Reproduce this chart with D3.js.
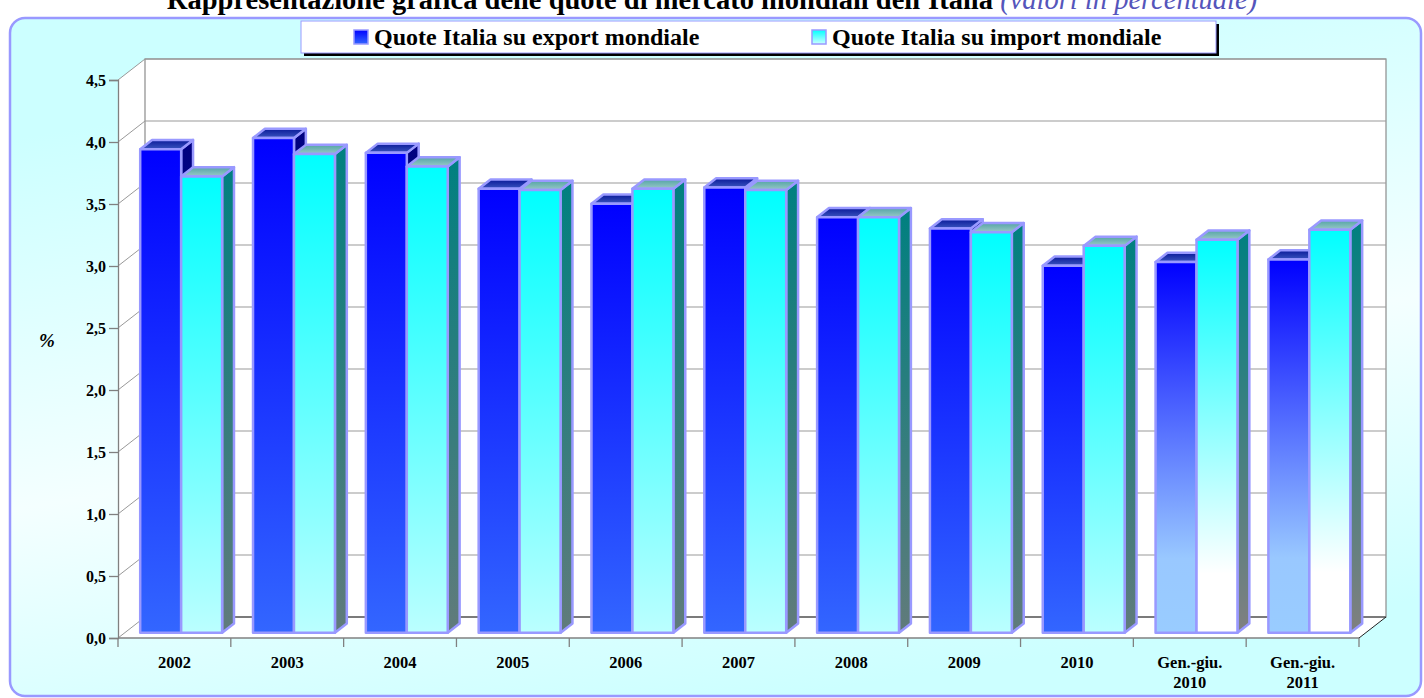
<!DOCTYPE html>
<html>
<head>
<meta charset="utf-8">
<script src="https://cdn.jsdelivr.net/npm/d3@7"></script>
<style>
  body { margin: 0; background: #ffffff; }
  svg { display: block; }
  text { font-family: "Liberation Serif", "DejaVu Serif", serif; }
</style>
</head>
<body>
<div class="chart"></div>
<script>
// data
const categories = ["2002", "2003", "2004", "2005", "2006", "2007", "2008", "2009", "2010", "Gen.-giu.\n2010", "Gen.-giu.\n2011"];
const exportShare = [3.90, 3.99, 3.87, 3.58, 3.46, 3.59, 3.35, 3.26, 2.96, 2.99, 3.01];
const importShare = [3.68, 3.86, 3.76, 3.57, 3.58, 3.57, 3.35, 3.23, 3.12, 3.17, 3.25];
const seriesNames = ["Quote Italia su export mondiale", "Quote Italia su import mondiale"];
const yTicks = [0, 0.5, 1, 1.5, 2, 2.5, 3, 3.5, 4, 4.5];
const lightCategories = ["Gen.-giu.\n2010", "Gen.-giu.\n2011"];

init();

function init() {
    const width = 1424, height = 698;
    const svg = d3.select(".chart").append("svg")
        .attr("width", width)
        .attr("height", height);

    const defs = svg.append("defs");
    addGradients(defs);

    // background panel
    svg.append("rect")
        .attr("x", 10).attr("y", 18)
        .attr("width", 1411).attr("height", 678)
        .attr("rx", 15)
        .attr("fill", "url(#bgGrad)")
        .attr("stroke", "#9999ff")
        .attr("stroke-width", 2.5);

    drawTitle(svg);
    drawLegend(svg);
    drawChart(svg);
}

function addGradients(defs) {
    const bg = defs.append("linearGradient").attr("id", "bgGrad")
        .attr("gradientUnits", "userSpaceOnUse")
        .attr("x1", 660).attr("y1", 40).attr("x2", 760).attr("y2", 700);
    bg.append("stop").attr("offset", 0).attr("stop-color", "#ccffff");
    bg.append("stop").attr("offset", 0.55).attr("stop-color", "#f4ffff");
    bg.append("stop").attr("offset", 1).attr("stop-color", "#ccffff");

    const vgrad = (id, stops) => {
        const g = defs.append("linearGradient").attr("id", id)
            .attr("x1", 0).attr("y1", 0).attr("x2", 0).attr("y2", 1);
        stops.forEach(s => g.append("stop").attr("offset", s[0]).attr("stop-color", s[1]));
    };
    vgrad("expFront", [[0, "#0000ff"], [1, "#3366ff"]]);
    vgrad("expFrontLight", [[0, "#0000ff"], [0.8, "#99c8ff"], [1, "#99ccff"]]);
    vgrad("impFront", [[0, "#00ffff"], [1, "#bbffff"]]);
    vgrad("impFrontLight", [[0, "#00ffff"], [0.85, "#ffffff"], [1, "#ffffff"]]);
    vgrad("expSide", [[0, "#000080"], [1, "#203399"]]);
    vgrad("expSideLight", [[0, "#000080"], [1, "#6680bb"]]);
    vgrad("impSide", [[0, "#008080"], [1, "#617b7b"]]);
    vgrad("impSideLight", [[0, "#008080"], [1, "#808080"]]);
    vgrad("expTop", [[0, "#0a1a99"], [1, "#3a55c0"]]);
    vgrad("impTop", [[0, "#55a5a5"], [1, "#99c8c8"]]);
    vgrad("expSwatch", [[0, "#0000ff"], [1, "#3366ff"]]);
    vgrad("impSwatch", [[0, "#00ffff"], [1, "#ccffff"]]);
}

function drawTitle(svg) {
    const t = svg.append("text")
        .attr("x", 712).attr("y", 9)
        .attr("text-anchor", "middle")
        .attr("font-size", "28.5px");
    t.append("tspan")
        .attr("font-weight", "bold")
        .attr("fill", "#000000")
        .text("Rappresentazione grafica delle quote di mercato mondiali dell'Italia ");
    t.append("tspan")
        .attr("font-style", "italic")
        .attr("fill", "#5555bb")
        .text("(valori in percentuale)");
}

function drawLegend(svg) {
    const lx = 301, ly = 21, lw = 915, lh = 32;
    svg.append("rect")
        .attr("x", lx + 3).attr("y", ly + 3)
        .attr("width", lw).attr("height", lh)
        .attr("fill", "#000000");
    svg.append("rect")
        .attr("x", lx).attr("y", ly)
        .attr("width", lw).attr("height", lh)
        .attr("fill", "#ffffff")
        .attr("stroke", "#9999ff")
        .attr("stroke-width", 1);

    const items = [
        {name: seriesNames[0], fill: "url(#expSwatch)", x: 354},
        {name: seriesNames[1], fill: "url(#impSwatch)", x: 812}
    ];
    const g = svg.selectAll(".legend-item")
        .data(items)
        .enter().append("g")
        .attr("class", "legend-item")
        .attr("transform", d => "translate(" + d.x + "," + (ly + 9) + ")");
    g.append("rect")
        .attr("width", 14).attr("height", 14)
        .attr("fill", d => d.fill)
        .attr("stroke", "#9999ff")
        .attr("stroke-width", 1.5);
    g.append("text")
        .attr("x", 20).attr("y", 15)
        .attr("font-size", "24px")
        .attr("font-weight", "bold")
        .text(d => d.name);
}

function drawChart(svg) {
    const x0 = 118, x1 = 1359,
        yBottom = 638, yTop = 80,
        depthX = 27, depthY = -21;

    const x = d3.scaleBand()
        .domain(categories)
        .range([x0, x1])
        .paddingInner(0).paddingOuter(0);

    const y = d3.scaleLinear()
        .domain([0, 4.5])
        .range([yBottom, yTop]);

    const bw = x.bandwidth();
    const sub = d3.scaleBand()
        .domain(seriesNames)
        .range([bw * 0.137, bw * 0.863]);

    // walls and floor
    svg.append("polygon")
        .attr("points", [[x0, yTop], [x0 + depthX, yTop + depthY], [x0 + depthX, yBottom + depthY], [x0, yBottom]].join(" "))
        .attr("fill", "#ffffff");
    svg.append("polygon")
        .attr("points", [[x0, yBottom], [x0 + depthX, yBottom + depthY], [x1 + depthX, yBottom + depthY], [x1, yBottom]].join(" "))
        .attr("fill", "#ffffff");
    svg.append("rect")
        .attr("x", x0 + depthX).attr("y", yTop + depthY)
        .attr("width", x1 - x0).attr("height", yBottom - yTop)
        .attr("fill", "#ffffff")
        .attr("stroke", "#8c8c8c")
        .attr("stroke-width", 1.2);

    // grid on back wall and side wall
    const grid = svg.append("g").attr("class", "grid");
    grid.selectAll(".gback")
        .data(yTicks)
        .enter().append("line")
        .attr("x1", x0 + depthX).attr("x2", x1 + depthX)
        .attr("y1", d => y(d) + depthY).attr("y2", d => y(d) + depthY)
        .attr("stroke", d => d === 0 ? "#666666" : "#999999")
        .attr("stroke-width", d => d === 0 ? 1.6 : 1.2);
    grid.selectAll(".gside")
        .data(yTicks)
        .enter().append("line")
        .attr("x1", x0).attr("x2", x0 + depthX)
        .attr("y1", d => y(d)).attr("y2", d => y(d) + depthY)
        .attr("stroke", "#999999")
        .attr("stroke-width", 1);
    svg.append("line")
        .attr("x1", x1).attr("y1", yBottom)
        .attr("x2", x1 + depthX).attr("y2", yBottom + depthY)
        .attr("stroke", "#222222").attr("stroke-width", 1);

    // bars
    const f0 = 0.25, f1 = 0.69;
    const rows = categories.map((c, i) => ({
        cat: c,
        light: lightCategories.includes(c),
        values: [exportShare[i], importShare[i]]
    }));

    const groups = svg.selectAll(".cat")
        .data(rows)
        .enter().append("g")
        .attr("class", "cat");

    groups.each(function(row) {
        const g = d3.select(this);
        row.values.forEach((v, j) => {
            const name = seriesNames[j];
            const isExp = j === 0;
            const bx = x(row.cat) + sub(name) + depthX * f0;
            const w = sub.bandwidth();
            const yt = y(v) + depthY * f0;
            const yb = y(0) + depthY * f0;
            const ddx = depthX * (f1 - f0), ddy = depthY * (f1 - f0);
            const front = isExp ? (row.light ? "expFrontLight" : "expFront") : (row.light ? "impFrontLight" : "impFront");
            const side = isExp ? (row.light ? "expSideLight" : "expSide") : (row.light ? "impSideLight" : "impSide");
            const top = isExp ? "expTop" : "impTop";

            const bar = g.append("g").attr("class", "bar")
                .attr("stroke", "#9999ff")
                .attr("stroke-width", 2.5)
                .attr("stroke-linejoin", "round");
            bar.append("polygon")
                .attr("points", [[bx + w, yt], [bx + w + ddx, yt + ddy], [bx + w + ddx, yb + ddy], [bx + w, yb]].join(" "))
                .attr("fill", "url(#" + side + ")");
            bar.append("polygon")
                .attr("points", [[bx, yt], [bx + ddx, yt + ddy], [bx + w + ddx, yt + ddy], [bx + w, yt]].join(" "))
                .attr("fill", "url(#" + top + ")");
            bar.append("rect")
                .attr("x", bx).attr("y", yt)
                .attr("width", w).attr("height", yb - yt)
                .attr("fill", "url(#" + front + ")");
        });
    });

    // y axis
    const yAxis = svg.append("g")
        .attr("class", "y-axis")
        .attr("transform", "translate(" + x0 + ",0)")
        .call(d3.axisLeft(y)
            .tickValues(yTicks)
            .tickSize(9)
            .tickPadding(3)
            .tickFormat(d => d3.format(".1f")(d).replace(".", ",")));
    yAxis.select(".domain").attr("stroke", "#808080").attr("stroke-width", 1.3);
    yAxis.selectAll(".tick line").attr("stroke", "#808080").attr("stroke-width", 1.3);
    yAxis.selectAll(".tick text")
        .attr("font-family", "Liberation Serif, serif")
        .attr("font-size", "16px")
        .attr("font-weight", "bold")
        .attr("fill", "#000000");

    // x axis
    svg.append("line")
        .attr("x1", x0).attr("x2", x1)
        .attr("y1", yBottom).attr("y2", yBottom)
        .attr("stroke", "#808080").attr("stroke-width", 1.3);
    svg.selectAll(".xtick")
        .data(d3.range(categories.length + 1))
        .enter().append("line")
        .attr("class", "xtick")
        .attr("x1", i => x0 + i * bw).attr("x2", i => x0 + i * bw)
        .attr("y1", yBottom).attr("y2", yBottom + 9)
        .attr("stroke", "#808080").attr("stroke-width", 1.3);

    const xAxis = svg.append("g")
        .attr("class", "x-axis")
        .attr("transform", "translate(0," + yBottom + ")")
        .call(d3.axisBottom(x).tickSize(0).tickFormat(""));
    xAxis.select(".domain").remove();
    xAxis.selectAll(".tick").append("text")
        .attr("text-anchor", "middle")
        .attr("font-family", "Liberation Serif, serif")
        .attr("font-size", "16.5px")
        .attr("font-weight", "bold")
        .attr("fill", "#000000")
        .each(function(d) {
            const lines = d.split("\n");
            d3.select(this).selectAll("tspan")
                .data(lines)
                .enter().append("tspan")
                .attr("x", 0)
                .attr("y", (l, k) => 30 + k * 20)
                .text(l => l);
        });

    // y axis title
    svg.append("text")
        .attr("x", 47).attr("y", 347)
        .attr("text-anchor", "middle")
        .attr("font-size", "19px")
        .attr("font-weight", "bold")
        .attr("font-style", "italic")
        .text("%");
}
</script>
</body>
</html>
